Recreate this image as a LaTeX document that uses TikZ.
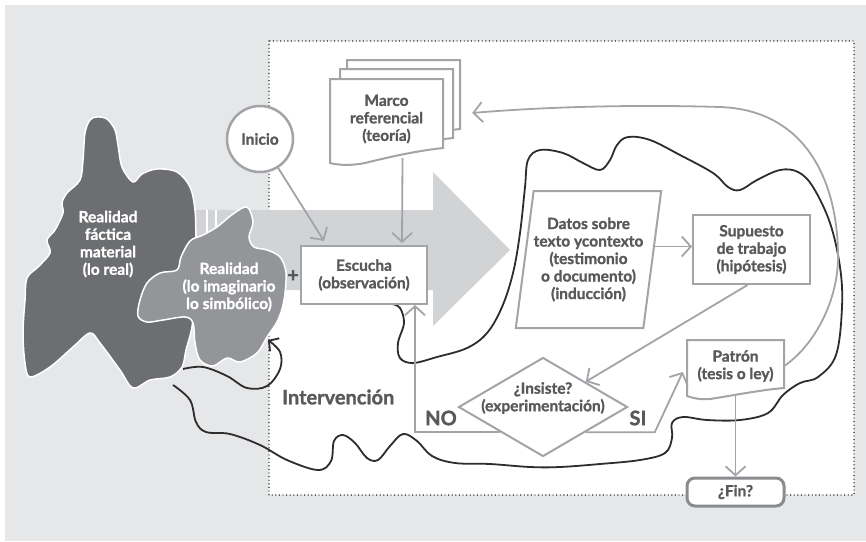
\documentclass[tikz,border=0pt]{standalone}
\usepackage{fontspec}
\setmainfont{Lato}[BoldFeatures={FakeBold=1.2}]
\usetikzlibrary{shapes.geometric,arrows.meta}

\definecolor{bggray}{HTML}{E6E7E8}
\definecolor{arrowgray}{HTML}{D1D3D4}
\definecolor{linegray}{HTML}{A2A4A7}
\definecolor{textgray}{HTML}{58595B}
\definecolor{darkblob}{HTML}{6D6E71}
\definecolor{lightblob}{HTML}{939598}
\definecolor{curveblack}{HTML}{2E2C2D}

\tikzset{>={Straight Barb[length=9pt,width=20pt]},
         txt/.style={text=textgray, font=\bfseries\fontsize{15.5}{17.5}\selectfont, align=center, inner sep=0pt},
         box/.style={txt, draw=linegray, line width=2pt, fill=white},
         page/.style={draw=linegray, line width=2pt, fill=white},
         circ/.style={txt, circle, draw=linegray, line width=2.5pt, fill=white, minimum size=66pt},
         datos/.style={txt, trapezium, trapezium left angle=78, trapezium right angle=102,
                       trapezium stretches body, draw=linegray, line width=2pt, fill=white,
                       minimum width=145pt, minimum height=137pt},
         decision/.style={diamond, draw=linegray, line width=2pt, fill=white, inner sep=0pt,
                          minimum width=169pt, minimum height=99pt},
         term/.style={txt, draw=linegray!85!black, line width=3pt, fill=white, rounded corners=8pt,
                      minimum width=97pt, minimum height=28pt},
         lbl/.style={text=textgray, font=\bfseries\fontsize{20}{22}\selectfont, inner sep=0pt},
         blob/.style={fill=#1, draw=white, line width=1.5pt},
         blobtext/.style={txt, text=white},
         conn/.style={draw=linegray, line width=1.8pt, ->},
         wave/.style={draw=curveblack, line width=1.8pt},
         frame/.style={draw=black, line width=1.4pt, line cap=round, dash pattern=on 0pt off 3.6pt}}

\begin{document}
\begin{tikzpicture}[x=1pt,y=-1pt]
  \useasboundingbox (0,0) rectangle (866,541);
  \fill[bggray] (5,5) rectangle (866,541);
  \filldraw[fill=white, frame] (269,41) rectangle (854,495);

  % big arrow
  \fill[arrowgray] (195,210) -- (433,210) -- (433,172) -- (510,250)
      -- (433,326) -- (433,290) -- (195,290) -- cycle;
  \draw[white, line width=2pt] (207,210) -- (207,250) (216,210) -- (216,250);

  % realities
  \filldraw[blob=darkblob] plot[smooth cycle, tension=0.55] coordinates {
      (97,117) (107,119) (115,130) (118,145) (122,167) (133,182) (142,174) (157,169)
      (177,172) (190,187) (195,210) (196,240) (197,270) (194,300) (192,327) (186,350)
      (182,367) (170,377) (150,380) (133,388) (120,370) (100,343) (90,333) (73,347)
      (50,367) (30,377) (25,363) (23,333) (25,300) (27,278) (38,267) (50,253) (47,240)
      (55,230) (63,213) (62,203) (67,193) (80,180) (83,160) (85,133) (90,120)};
  \filldraw[blob=lightblob] plot[smooth cycle, tension=0.55] coordinates {
      (247,207) (253,222) (249,237) (254,247) (267,250) (280,257) (286,273) (284,300)
      (278,320) (267,337) (257,353) (240,362) (227,358) (213,366) (200,360) (195,343)
      (193,323) (185,317) (163,320) (147,322) (138,316) (140,300) (147,283) (160,273)
      (177,270) (181,257) (190,241) (203,235) (217,227) (233,214)};
  \node[blobtext] (real) at (108,244) {Realidad\\fáctica\\material\\(lo real)};
  \node[blobtext] (imag) at (229,287) {Realidad\\(lo imaginario\\lo simbólico)};

  % black curves
  \draw[wave, -{Straight Barb[length=7pt,width=16pt]}] plot[smooth, tension=0.6] coordinates {
      (183,369) (203,367) (227,376) (247,388) (267,386) (280,369) (280,352) (268,340)};
  \draw[wave] plot[smooth, tension=0.6] coordinates {
      (173,385) (190,400) (196,422) (206,432) (230,434) (260,445) (287,460) (318,470)
      (331,461) (334,441) (343,435) (355,443) (367,458) (378,460) (390,446) (403,434)
      (417,441) (432,456) (455,463) (490,464) (530,467) (560,467) (600,464) (640,460)
      (665,453) (672,438) (672,423) (683,417) (707,420) (740,420) (768,413) (783,395)
      (800,383) (818,377) (836,355) (842,307) (840,267) (830,223) (813,187) (798,172)
      (780,170) (757,180) (740,190) (728,187) (713,173) (680,155) (650,140) (628,137)
      (617,145) (610,160) (600,170) (583,163) (563,153) (540,150) (528,160) (525,187)
      (520,233) (513,273) (502,307) (487,333) (467,348) (437,357) (413,363) (400,358)
      (398,343) (404,323) (400,308) (392,304)};

  % marco referencial
  \foreach \dx/\dy in {17/-19, 10/-10, 0/0}
    \draw[page, shift={(\dx,\dy)}] (330,79) -- (443,79) -- (443,148)
        .. controls (415,151) and (385,158) .. (365,163)
        .. controls (350,166) and (338,165) .. (330,163) -- cycle;
  \node[txt, minimum width=113pt, minimum height=80pt] (marco) at (386.5,119) {Marco\\referencial\\(teoría)};

  \node[circ] (inicio) at (260,139) {Inicio};
  \node[box, minimum width=126pt, minimum height=58pt] (escucha) at (364,275) {Escucha\\(observación)};
  \node[txt, text=darkblob!80!black, font=\bfseries\fontsize{20}{20}\selectfont] (mas) at (293,276) {+};
  \node[datos] (datos) at (588.5,259.5) {Datos sobre\\texto ycontexto\\(testimonio\\o documento)\\(inducción)};
  \node[box, minimum width=117pt, minimum height=69pt] (supuesto) at (751.5,249.5) {Supuesto\\de trabajo\\(hipótesis)};
  \node[decision] (insiste) at (543,407) {};
  \node[txt, yshift=9pt] (insistetext) at (insiste) {¿Insiste?\\(experimentación)};

  % patron
  \draw[page] (687,340) -- (784,340) -- (784,388)
      .. controls (760,390) and (730,396) .. (710,399)
      .. controls (700,400) and (693,398) .. (687,396) -- cycle;
  \node[txt, minimum width=97pt, minimum height=52pt] (patron) at (735.5,366) {Patrón\\(tesis o ley)};
  \node[term] (fin) at (735.5,492) {¿Fin?};

  \node[lbl] (no) at (441,418) {NO};
  \node[lbl] (si) at (638,418) {SI};
  \node[lbl, anchor=west] (interv) at (282,397) {Intervención};

  % connectors
  \draw[conn] (inicio) -- ([xshift=24pt,yshift=4pt]escucha.north west);
  \draw[conn] ([xshift=16pt,yshift=1pt]marco.south) -- ([xshift=38pt,yshift=2pt]escucha.north);
  \draw[conn] ([yshift=3pt]supuesto.west -| datos.east) -- ([yshift=3pt]supuesto.west);
  \draw[conn] ([xshift=-4pt]supuesto.south) -- (insiste.north east);
  \draw[conn] (insiste.south east) -- ++(69,0) -- ([xshift=-4pt,yshift=-6pt]patron.west);
  \draw[conn] (insiste.south west) -| ([xshift=51pt]escucha.south);
  \draw[conn] ([yshift=-3pt]patron.south) -- (fin.north);
  \draw[conn] (patron.east) .. controls (815,345) and (838,300) .. (838,257)
      .. controls (838,180) and (805,110) .. (720,107)
      .. controls (620,104) and (530,108) .. ([xshift=29pt,yshift=6pt]marco.east);
\end{tikzpicture}
\end{document}
